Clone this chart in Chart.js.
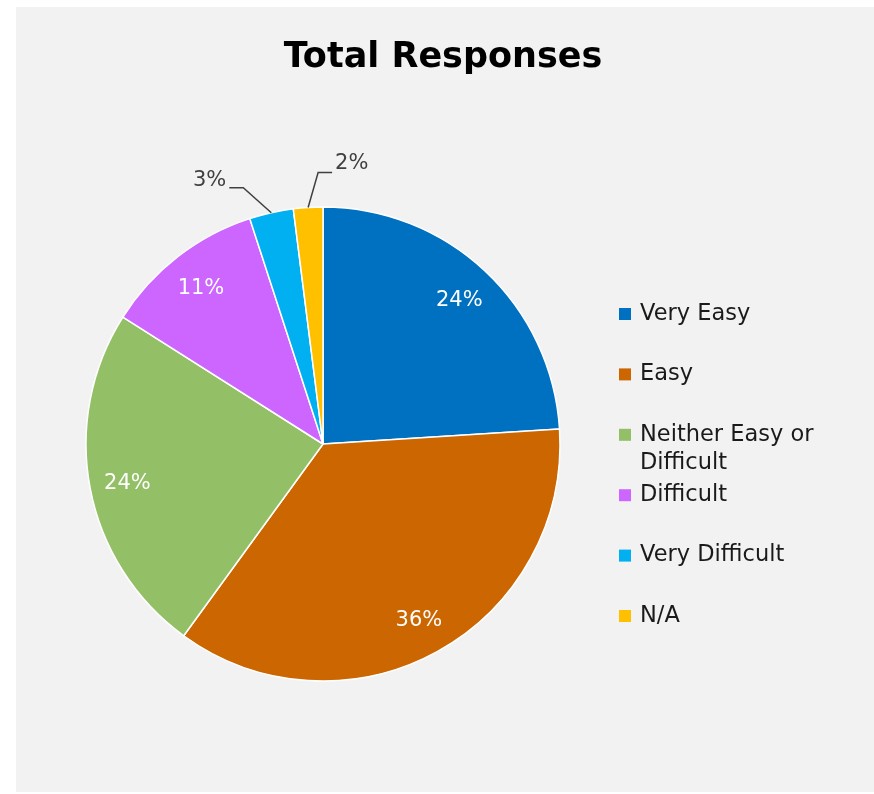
<!DOCTYPE html>
<html>
<head>
<meta charset="utf-8">
<script src="https://cdn.jsdelivr.net/npm/chart.js@4/dist/chart.umd.min.js"></script>
<style>
    html, body { margin: 0; padding: 0; background: #ffffff; }
    canvas { display: block; }
</style>
</head>
<body>
<canvas id="grafico" width="874" height="794"></canvas>
<script>
const categorias = ["Very Easy", "Easy", "Neither Easy or Difficult", "Difficult", "Very Difficult", "N/A"];
const lineasLeyenda = [["Very Easy"], ["Easy"], ["Neither Easy or", "Difficult"], ["Difficult"], ["Very Difficult"], ["N/A"]];
const porcentajes = [24, 36, 24, 11, 3, 2];
const colores = ["#0070c0", "#cc6600", "#93bf66", "#cc66ff", "#00b0f0", "#ffc000"];
const titulo = "Total Responses";

// rebanadas chicas: etiqueta afuera con linea guia (codo y tramo horizontal)
const guias = {
    4: { dx: -28, dy: -25, h: -14, sube: 7 },
    5: { dx: 10, dy: -35, h: 14, sube: 9 }
};

const fuente = "'DejaVu Sans', Verdana, sans-serif";

const fondo = {
    id: "fondo",
    beforeDraw(chart) {
        const ctx = chart.ctx;
        ctx.save();
        ctx.fillStyle = "#f2f2f2";
        ctx.fillRect(16, 7, chart.width - 16, chart.height - 9);
        ctx.restore();
    }
};

const etiquetas = {
    id: "etiquetas",
    afterDatasetsDraw(chart) {
        const ctx = chart.ctx;
        const arcos = chart.getDatasetMeta(0).data;
        ctx.save();
        ctx.font = "21px " + fuente;
        ctx.textBaseline = "middle";
        arcos.forEach((arco, i) => {
            const p = arco.getProps(["x", "y", "startAngle", "endAngle", "outerRadius"], true);
            const medio = (p.startAngle + p.endAngle) / 2;
            const texto = porcentajes[i] + "%";
            const guia = guias[i];
            if (!guia) {
                const r = p.outerRadius * 0.84;
                ctx.fillStyle = "#ffffff";
                ctx.textAlign = "center";
                ctx.fillText(texto, p.x + Math.cos(medio) * r, p.y + Math.sin(medio) * r + 2);
                return;
            }
            const px = p.x + Math.cos(medio) * p.outerRadius;
            const py = p.y + Math.sin(medio) * p.outerRadius;
            const cx = px + guia.dx;
            const cy = py + guia.dy;
            const fx = cx + guia.h;
            ctx.strokeStyle = "#404040";
            ctx.lineWidth = 1.5;
            ctx.beginPath();
            ctx.moveTo(px, py);
            ctx.lineTo(cx, cy);
            ctx.lineTo(fx, cy);
            ctx.stroke();
            ctx.fillStyle = "#404040";
            ctx.textAlign = guia.h < 0 ? "right" : "left";
            ctx.fillText(texto, fx + (guia.h < 0 ? -3 : 3), cy - guia.sube);
        });
        ctx.restore();
    }
};

const encabezado = {
    id: "encabezado",
    afterDraw(chart) {
        const ctx = chart.ctx;
        ctx.save();

        ctx.font = "bold 35px " + fuente;
        ctx.fillStyle = "#000000";
        ctx.textAlign = "center";
        ctx.textBaseline = "middle";
        ctx.fillText(titulo, 443, 58);

        // leyenda a la derecha
        ctx.font = "22.5px " + fuente;
        ctx.textAlign = "left";
        const paso = 60.4;
        lineasLeyenda.forEach((lineas, i) => {
            const y = 314 + i * paso;
            ctx.fillStyle = colores[i];
            ctx.fillRect(619, y - 6, 12, 12);
            ctx.fillStyle = "#1a1a1a";
            lineas.forEach((linea, j) => ctx.fillText(linea, 640, y + j * 28));
        });
        ctx.restore();
    }
};

const ctx = document.getElementById("grafico").getContext("2d");
new Chart(ctx, {
    type: "pie",
    data: {
        labels: categorias,
        datasets: [{
            data: porcentajes,
            backgroundColor: colores,
            borderColor: "#ffffff",
            borderWidth: 1.5
        }]
    },
    options: {
        responsive: false,
        animation: false,
        radius: 237,
        layout: { padding: { left: 86, right: 314, top: 207, bottom: 113 } },
        plugins: {
            legend: { display: false },
            title: { display: false },
            tooltip: { enabled: false }
        }
    },
    plugins: [fondo, etiquetas, encabezado]
});
</script>
</body>
</html>
